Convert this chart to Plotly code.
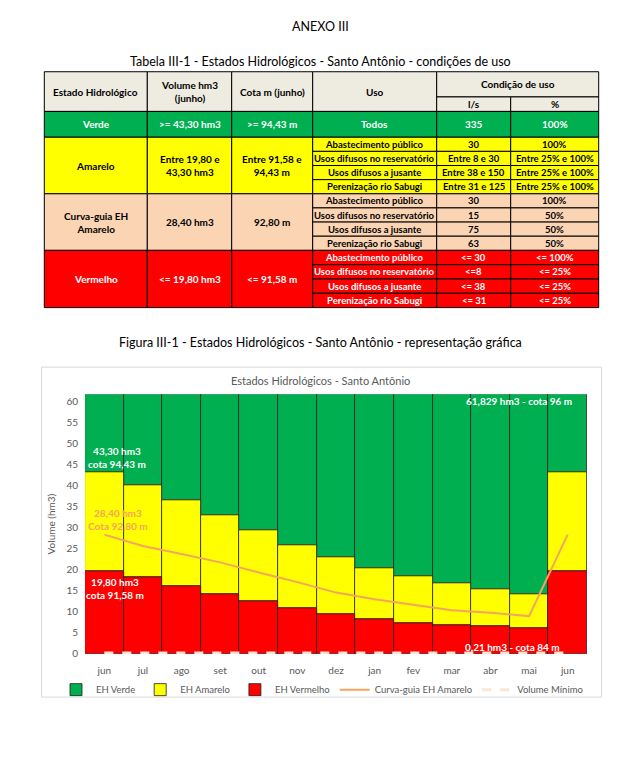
import plotly.graph_objects as go

# ---------------- DATA ----------------
meses = ["jun", "jul", "ago", "set", "out", "nov", "dez", "jan", "fev", "mar", "abr", "mai", "jun"]
vermelho_topo = [19.8, 18.2, 16.2, 14.3, 12.5, 10.8, 9.4, 8.2, 7.4, 6.8, 6.5, 6.1, 19.8]
amarelo_topo = [43.3, 40.1, 36.7, 33.0, 29.4, 25.9, 23.0, 20.4, 18.4, 16.8, 15.4, 14.1, 43.3]
volume_max = [61.829] * 13
curva_guia = [28.4, 25.7, 23.8, 21.8, 19.4, 17.1, 14.6, 13.0, 11.7, 10.4, 9.8, 9.0, 28.4]
volume_minimo = [0.21] * 13

tab_header = ["Estado Hidrológico", "Volume hm3<br>(junho)", "Cota m (junho)", "Uso"]
tab_cond = "Condição de uso"
tab_sub = ["l/s", "%"]
estados = ["Verde", "Amarelo", "Curva-guia EH<br>Amarelo", "Vermelho"]
volumes = ["&gt;= 43,30 hm3", "Entre 19,80 e<br>43,30 hm3", "28,40 hm3", "&lt;= 19,80 hm3"]
cotas = ["&gt;= 94,43 m", "Entre 91,58 e<br>94,43 m", "92,80 m", "&lt;= 91,58 m"]
usos_verde = ["Todos"]
usos = ["Abastecimento público", "Usos difusos no reservatório", "Usos difusos a jusante", "Perenização rio Sabugi"]
vazao = [
    ["335"],
    ["30", "Entre 8 e 30", "Entre 38 e 150", "Entre 31 e 125"],
    ["30", "15", "75", "63"],
    ["&lt;= 30", "&lt;=8", "&lt;= 38", "&lt;= 31"],
]
percent = [
    ["100%"],
    ["100%", "Entre 25% e 100%", "Entre 25% e 100%", "Entre 25% e 100%"],
    ["100%", "50%", "50%", "50%"],
    ["&lt;= 100%", "&lt;= 25%", "&lt;= 25%", "&lt;= 25%"],
]

# ---------------- STYLE / LAYOUT ----------------
W, H = 640, 778
FONT = "Lato"
def X(px):
    return px / W
def Y(py):
    return 1 - py / H

row_fill = ["#00B050", "#FFFF00", "#FBD4B4", "#FF0000"]
row_text = ["white", "black", "black", "white"]
header_fill = "#EEECE1"

col_x = [44.3, 147.3, 231.7, 312.7, 436.7, 510.7, 598.7]
head_top, head_split, head_bot = 72.3, 97.7, 112.3
row_bounds = [112.3, 138.3, 195.3, 252.3, 310.0]

shapes = []
annotations = []

def rect(x0, y0, x1, y1, fill, line="black", w=1):
    shapes.append(dict(type="rect", xref="paper", yref="paper",
                       x0=X(x0), x1=X(x1), y0=Y(y1), y1=Y(y0),
                       fillcolor=fill, line=dict(color=line, width=w), layer="below"))

def text(xc, yc, s, color="black", size=9.5, bold=True, family=FONT):
    annotations.append(dict(xref="paper", yref="paper", x=X(xc), y=Y(yc),
                            text=("<b>%s</b>" % s) if bold else s, showarrow=False,
                            xanchor="center", yanchor="middle",
                            font=dict(family=family, size=size, color=color)))

# header
for i in range(4):
    rect(col_x[i], head_top, col_x[i + 1], head_bot, header_fill)
    text((col_x[i] + col_x[i + 1]) / 2, (head_top + head_bot) / 2, tab_header[i], size=10)
rect(col_x[4], head_top, col_x[6], head_split, header_fill)
text((col_x[4] + col_x[6]) / 2, (head_top + head_split) / 2, tab_cond, size=10)
for j in range(2):
    rect(col_x[4 + j], head_split, col_x[5 + j], head_bot, header_fill)
    text((col_x[4 + j] + col_x[5 + j]) / 2, (head_split + head_bot) / 2, tab_sub[j], size=10)

# body
for r in range(4):
    y0, y1 = row_bounds[r], row_bounds[r + 1]
    fill, tc = row_fill[r], row_text[r]
    main = [estados[r], volumes[r], cotas[r]]
    for c in range(3):
        rect(col_x[c], y0, col_x[c + 1], y1, fill)
        text((col_x[c] + col_x[c + 1]) / 2, (y0 + y1) / 2, main[c], tc, size=10)
    subs = usos_verde if r == 0 else usos
    n = len(subs)
    h = (y1 - y0) / n
    for k in range(n):
        sy0, sy1 = y0 + k * h, y0 + (k + 1) * h
        vals = [subs[k], vazao[r][k], percent[r][k]]
        for c in range(3):
            rect(col_x[3 + c], sy0, col_x[4 + c], sy1, fill)
            text((col_x[3 + c] + col_x[4 + c]) / 2, (sy0 + sy1) / 2, vals[c], tc,
                 size=10 if r == 0 else 9.5)

# page titles
text(320, 27, "ANEXO III", "black", size=12.5, bold=False)
text(320, 62, "Tabela III-1 - Estados Hidrológicos - Santo Antônio - condições de uso", "black", size=12.5, bold=False)
text(320, 345, "Figura III-1 - Estados Hidrológicos - Santo Antônio - representação gráfica", "black", size=12.5, bold=False)

# chart frame & title
shapes.append(dict(type="rect", xref="paper", yref="paper", x0=X(41.5), x1=X(601.5),
                   y0=Y(702.5), y1=Y(370), line=dict(color="#D9D9D9", width=1),
                   fillcolor="rgba(0,0,0,0)", layer="below"))
text(320, 383, "Estados Hidrológicos - Santo Antônio", "#595959", size=11, bold=False)

# ---------------- CHART ----------------
xs = list(range(len(meses)))
verde_h = [t - a for t, a in zip(volume_max, amarelo_topo)]
amarelo_h = [a - v for a, v in zip(amarelo_topo, vermelho_topo)]

fig = go.Figure()
bar_line = dict(color="#1F1F1F", width=0.8)
fig.add_trace(go.Bar(x=xs, y=verde_h, base=amarelo_topo, name="EH Verde",
                     marker=dict(color="#00B050", line=bar_line), width=1))
fig.add_trace(go.Bar(x=xs, y=amarelo_h, base=vermelho_topo, name="EH Amarelo",
                     marker=dict(color="#FFFF00", line=bar_line), width=1))
fig.add_trace(go.Bar(x=xs, y=vermelho_topo, base=[0] * len(xs), name="EH Vermelho",
                     marker=dict(color="#FF0000", line=bar_line), width=1))
fig.add_trace(go.Scatter(x=xs, y=curva_guia, mode="lines", name="Curva-guia EH Amarelo",
                         line=dict(color="#F5A460", width=2)))
fig.add_trace(go.Scatter(x=xs, y=volume_minimo, mode="lines", name="Volume Mínimo",
                         line=dict(color="#FBE5D6", width=3, dash="dash")))

# chart labels (data coordinates)
chart_labels = [
    (0.32, 46.8, "<b>43,30 hm3<br>cota 94,43 m</b>", "white"),
    (0.35, 32.1, "<b>28,40 hm3<br>Cota 92,80 m</b>", "#F5A460"),
    (0.28, 15.6, "<b>19,80 hm3<br>cota 91,58 m</b>", "white"),
    (10.74, 60.2, "<b>61,829 hm3 - cota 96 m</b>", "white"),
    (10.58, 1.7, "<b>0,21 hm3 - cota 84 m</b>", "white"),
]
for x, y, s, col in chart_labels:
    annotations.append(dict(xref="x", yref="y", x=x, y=y, text=s, showarrow=False,
                            xanchor="center", yanchor="middle",
                            font=dict(family=FONT, size=10, color=col)))

fig.update_layout(
    width=W, height=H, margin=dict(l=0, r=0, t=0, b=0),
    paper_bgcolor="white", plot_bgcolor="white",
    barmode="overlay", bargap=0,
    font=dict(family=FONT, size=10, color="#595959"),
    shapes=shapes, annotations=annotations,
    xaxis=dict(domain=[X(85), X(587)], range=[-0.5, 12.5], tickmode="array",
               tickvals=xs, ticktext=meses, showgrid=False, zeroline=False,
               showline=False, ticks="", ticklabelstandoff=9,
               tickfont=dict(family=FONT, size=10, color="#595959")),
    yaxis=dict(domain=[Y(659), Y(397.3)], range=[0, 61.829], tickmode="array",
               tickvals=list(range(0, 61, 5)), showgrid=False, zeroline=False,
               showline=False, ticks="", ticklabelstandoff=6,
               title=dict(text="Volume (hm3)", font=dict(family=FONT, size=10, color="#595959"),
                          standoff=8),
               tickfont=dict(family=FONT, size=10, color="#595959")),
    legend=dict(orientation="h", x=X(56), y=Y(695), xanchor="left", yanchor="middle",
                traceorder="normal", font=dict(family=FONT, size=9.5, color="#595959"),
                bgcolor="rgba(0,0,0,0)", itemwidth=30, tracegroupgap=0),
    showlegend=True,
)

fig.write_html("out.html", config={"displayModeBar": False},
               post_script="document.body.style.margin='0px';document.body.style.overflow='hidden';")
